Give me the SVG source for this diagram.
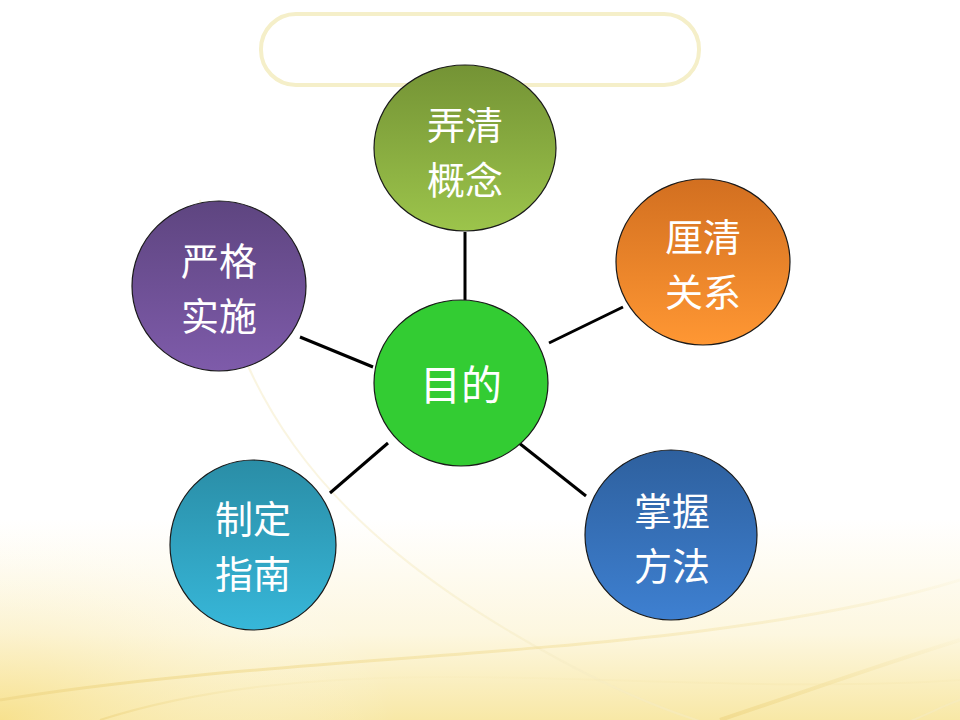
<svg xmlns="http://www.w3.org/2000/svg" width="960" height="720" viewBox="0 0 960 720">
<defs>
<linearGradient id="bgY" x1="0" y1="0" x2="0" y2="1">
<stop offset="0" stop-color="#FFFFFF"/>
<stop offset="0.72" stop-color="#FFFFFF"/>
<stop offset="0.88" stop-color="#FDF7E0"/>
<stop offset="1" stop-color="#F8E8A6"/>
</linearGradient>
<radialGradient id="bgL" cx="0" cy="1" r="0.55">
<stop offset="0" stop-color="#F7E08A" stop-opacity="0.85"/>
<stop offset="1" stop-color="#FFFFFF" stop-opacity="0"/>
</radialGradient>
<linearGradient id="swFade" x1="0" y1="0" x2="0" y2="1">
<stop offset="0" stop-color="#F3E3A8" stop-opacity="0.1"/>
<stop offset="1" stop-color="#F0D98A" stop-opacity="0.8"/>
</linearGradient>
<linearGradient id="gGreen" x1="0" y1="0" x2="0" y2="1"><stop offset="0" stop-color="#749335"/><stop offset="1" stop-color="#9CC44B"/></linearGradient>
<linearGradient id="gOrange" x1="0" y1="0" x2="0" y2="1"><stop offset="0" stop-color="#D26F20"/><stop offset="1" stop-color="#FF9733"/></linearGradient>
<linearGradient id="gPurple" x1="0" y1="0" x2="0" y2="1"><stop offset="0" stop-color="#5E4580"/><stop offset="1" stop-color="#7E5BAA"/></linearGradient>
<linearGradient id="gTeal" x1="0" y1="0" x2="0" y2="1"><stop offset="0" stop-color="#2A8DA6"/><stop offset="1" stop-color="#37B7D9"/></linearGradient>
<linearGradient id="gBlue" x1="0" y1="0" x2="0" y2="1"><stop offset="0" stop-color="#2E609E"/><stop offset="1" stop-color="#3E80D1"/></linearGradient>
<style>
.node ellipse{stroke:#1a1a1a;stroke-width:1.2}
.lbl{font-family:"Noto Sans CJK SC","Noto Sans",sans-serif;font-size:38px;fill:#FFFFFF;text-anchor:middle;dominant-baseline:central}
.big{font-size:41px}
.conn line{stroke:#000000;stroke-width:3}
.swoosh{fill:none;stroke:url(#swFade)}
</style>
</defs>
<rect x="0" y="0" width="960" height="720" fill="url(#bgY)"/>
<rect x="0" y="360" width="720" height="360" fill="url(#bgL)"/>
<path fill="none" stroke="#F6ECC4" stroke-opacity="0.5" stroke-width="2" d="M200 200 C 230 380, 300 520, 560 660 S 900 720, 960 700"/>
<path class="swoosh" stroke-width="3" d="M0 700 C 300 650, 700 660, 960 580"/>
<path class="swoosh" stroke-width="4" d="M720 720 C 810 690, 880 665, 960 640"/>
<path class="swoosh" stroke-width="2" d="M100 720 C 350 640, 650 700, 960 680"/>
<rect x="261" y="14" width="438" height="71" rx="35" ry="35" fill="#FFFFFF" stroke="#F5EFC9" stroke-width="4"/>
<g class="conn" id="connectors">
<line x1="465" y1="232" x2="465" y2="300"/>
<line x1="549" y1="343" x2="623" y2="307"/>
<line x1="300" y1="337" x2="373" y2="367"/>
<line x1="330" y1="493" x2="388" y2="443"/>
<line x1="519" y1="443" x2="586" y2="496"/>
</g>
<g class="node" id="node-center">
<ellipse cx="461" cy="383" rx="87" ry="83" fill="#33CC33"/>
<text class="lbl big" x="461" y="382">目的</text>
</g>
<g class="node" id="node-top">
<ellipse cx="465" cy="148" rx="91" ry="83" fill="url(#gGreen)"/>
<text class="lbl"><tspan x="465" y="122">弄清</tspan><tspan x="465" y="177">概念</tspan></text>
</g>
<g class="node" id="node-right">
<ellipse cx="703" cy="262" rx="87" ry="83" fill="url(#gOrange)"/>
<text class="lbl"><tspan x="703" y="234">厘清</tspan><tspan x="703" y="289">关系</tspan></text>
</g>
<g class="node" id="node-left">
<ellipse cx="219" cy="286" rx="87" ry="85" fill="url(#gPurple)"/>
<text class="lbl"><tspan x="219" y="258">严格</tspan><tspan x="219" y="313">实施</tspan></text>
</g>
<g class="node" id="node-bottom-left">
<ellipse cx="253" cy="545" rx="83" ry="85" fill="url(#gTeal)"/>
<text class="lbl"><tspan x="253" y="516">制定</tspan><tspan x="253" y="571">指南</tspan></text>
</g>
<g class="node" id="node-bottom-right">
<ellipse cx="671" cy="535" rx="86" ry="85" fill="url(#gBlue)"/>
<text class="lbl"><tspan x="672" y="508">掌握</tspan><tspan x="672" y="563">方法</tspan></text>
</g>
</svg>
